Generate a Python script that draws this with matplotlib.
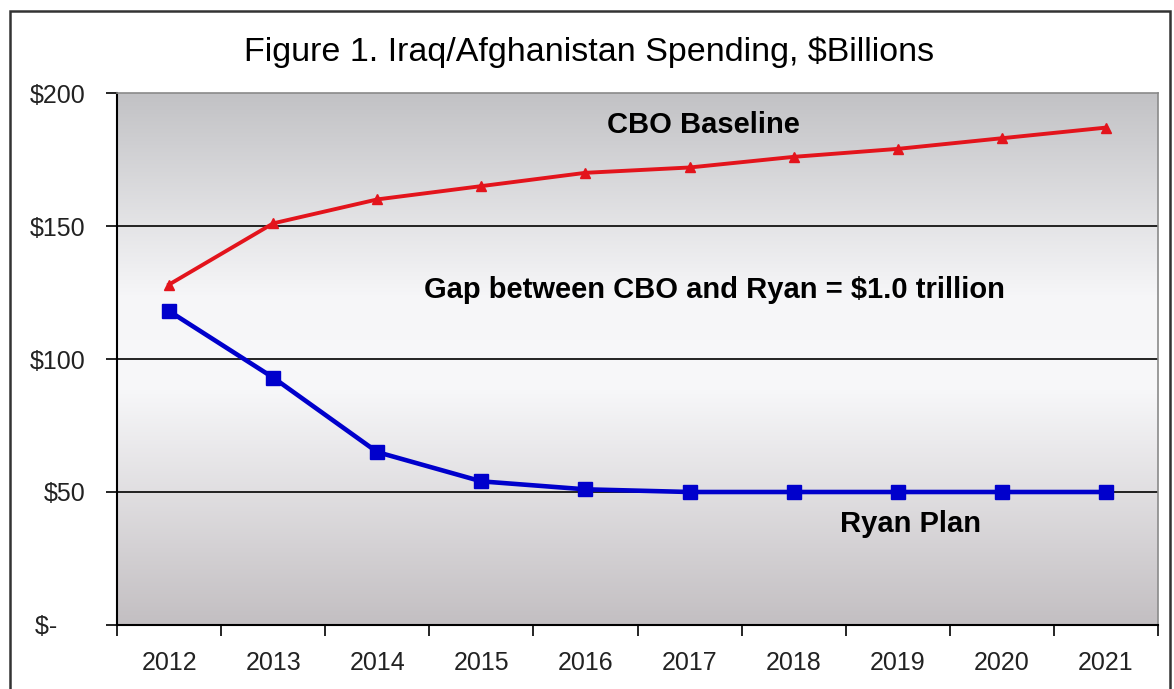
import numpy as np
import matplotlib
matplotlib.use("Agg")
import matplotlib.pyplot as plt
from matplotlib.colors import LinearSegmentedColormap
from matplotlib.patches import Rectangle

# --- Data ---
years = ["2012", "2013", "2014", "2015", "2016", "2017", "2018", "2019", "2020", "2021"]
cbo_baseline = [128, 151, 160, 165, 170, 172, 176, 179, 183, 187]
ryan_plan = [118, 93, 65, 54, 51, 50, 50, 50, 50, 50]
y_ticks = [0, 50, 100, 150, 200]
y_labels = ["$-    ", "$50", "$100", "$150", "$200"]  # accounting-style zero

plt.rcParams["font.family"] = ["Liberation Sans", "DejaVu Sans"]

fig = plt.figure(figsize=(11.74, 6.89), dpi=100)
ax = fig.add_axes([0.0997, 0.0929, 0.8867, 0.7721])

x = np.arange(len(years))
ax.set_xlim(-0.5, len(years) - 0.5)
ax.set_ylim(0, 200)

# --- gradient background (gray - white - gray) ---
bg = LinearSegmentedColormap.from_list(
    "bg", [(0.0, "#c3bfc2"), (0.45, "#f8f8fa"), (0.62, "#f6f6f8"), (1.0, "#c2c2c5")])
grad = np.linspace(0, 1, 256).reshape(-1, 1)
ax.imshow(grad, cmap=bg, aspect="auto", origin="lower",
          extent=[-0.5, len(years) - 0.5, 0, 200], zorder=0)

# gridlines
for v in y_ticks[1:-1]:
    ax.axhline(v, color="black", lw=1.2, zorder=1)

# --- series ---
ax.plot(x, cbo_baseline, color="#e3141c", lw=2.8, marker="^", ms=7, zorder=3)
ax.plot(x, ryan_plan, color="#0000cc", lw=3.3, marker="s", ms=10, zorder=3)

# --- annotations ---
ax.text(5.13, 188, "CBO Baseline", fontsize=21, fontweight="bold", ha="center", va="center")
ax.text(5.24, 126, "Gap between CBO and Ryan = $1.0 trillion", fontsize=21,
        fontweight="bold", ha="center", va="center")
ax.text(7.12, 38, "Ryan Plan", fontsize=21, fontweight="bold", ha="center", va="center")

# --- axes styling ---
ax.set_yticks(y_ticks)
ax.set_yticklabels(y_labels, fontsize=18, color="#222222")
ax.set_xticks(x)
ax.set_xticklabels(years, fontsize=18, color="#222222")
ax.set_xticks(np.arange(-0.5, len(years)), minor=True)
ax.tick_params(axis="x", which="major", length=0, pad=19)
ax.tick_params(axis="x", which="minor", length=8, width=1.2, direction="out")
ax.tick_params(axis="y", length=8, width=1.2, direction="out", pad=15)
ax.tick_params(axis="both", color="black")
for side in ["left", "bottom"]:
    ax.spines[side].set_color("black")
    ax.spines[side].set_linewidth(1.5)
for side in ["top", "right"]:
    ax.spines[side].set_color("#8a8a8a")
    ax.spines[side].set_linewidth(1.2)

fig.text(0.502, 0.9245, "Figure 1. Iraq/Afghanistan Spending, $Billions", fontsize=24.5,
         ha="center", va="center")

# outer chart border
fig.patches.append(Rectangle((10 / 1174, -0.05), 1160 / 1174, 1.05 - 11 / 689,
                             transform=fig.transFigure, fill=False,
                             edgecolor="#333333", lw=1.8))

fig.savefig("out.png", dpi=100)
